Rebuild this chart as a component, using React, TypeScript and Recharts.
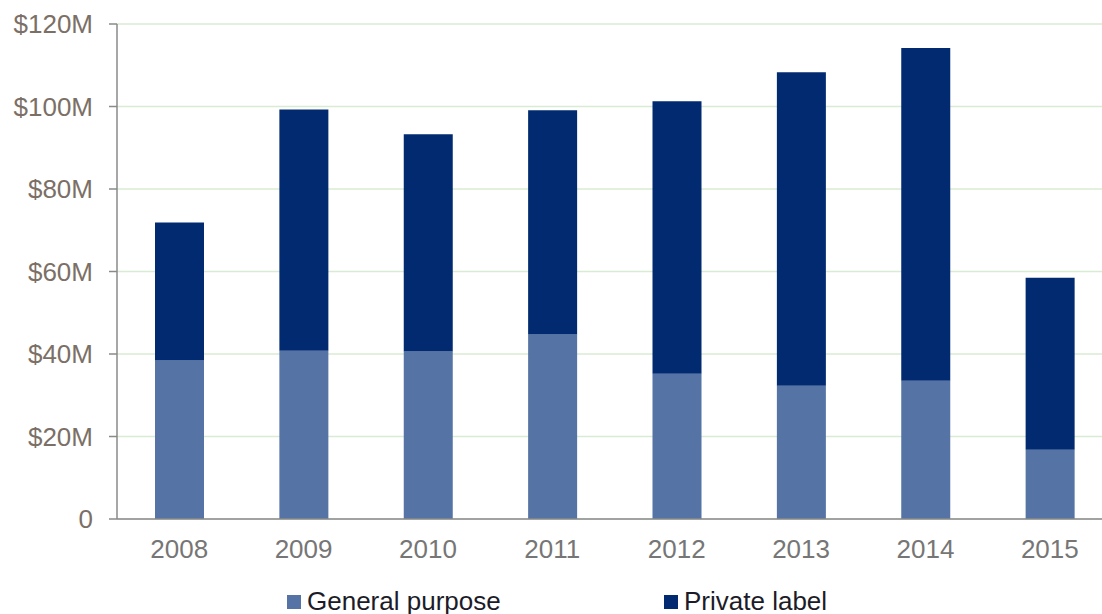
import { BarChart, Bar, XAxis, YAxis, CartesianGrid } from "recharts";

const YEARS = ["2008", "2009", "2010", "2011", "2012", "2013", "2014", "2015"];
const GENERAL = [38.4, 40.8, 40.6, 44.7, 35.2, 32.3, 33.5, 16.8];
const PRIVATE = [33.5, 58.5, 52.7, 54.4, 66.1, 76.0, 80.7, 41.7];
const Y_TICKS = [0, 20, 40, 60, 80, 100, 120];

const GENERAL_COLOR = "#5573a5";
const PRIVATE_COLOR = "#012a70";
const FONT = "'Liberation Sans', Arial, sans-serif";

const data = YEARS.map((year, i) => ({ year, general: GENERAL[i], private: PRIVATE[i] }));

function LegendItem({ color, label, left }: { color: string; label: string; left: number }) {
  return (
    <div style={{ position: "absolute", left, top: 588, display: "flex", alignItems: "flex-start" }}>
      <div style={{ width: 14, height: 14, background: color, marginTop: 7, marginRight: 6 }} />
      <span style={{ fontSize: 26, lineHeight: "26px", color: "#1c1c28", fontFamily: FONT, whiteSpace: "nowrap" }}>
        {label}
      </span>
    </div>
  );
}

export default function App() {
  return (
    <div
      style={{
        position: "absolute",
        left: 0,
        top: 0,
        width: 1102,
        height: 614,
        overflow: "hidden",
        background: "#fff",
        fontFamily: FONT,
      }}
    >
      <BarChart
        width={1112}
        height={614}
        data={data}
        margin={{ top: 24, right: 0, bottom: 0, left: 0 }}
        barSize={49}
      >
        <CartesianGrid vertical={false} stroke="#d9ebd2" strokeWidth={1.5} />
        <XAxis
          dataKey="year"
          height={95}
          tickLine={false}
          tickSize={0}
          tickMargin={21}
          stroke="#8a8a8a"
          strokeWidth={1.5}
          tick={{ fontSize: 26, fill: "#767676", fontFamily: FONT }}
        />
        <YAxis
          width={117}
          domain={[0, 120]}
          ticks={Y_TICKS}
          interval={0}
          tickSize={8}
          tickMargin={16}
          stroke="#8a8a8a"
          strokeWidth={1.5}
          tick={{ fontSize: 26, fill: "#7b6f66", fontFamily: FONT }}
          tickFormatter={(v: number) => (v === 0 ? "0" : `$${v}M`)}
        />
        <Bar dataKey="general" stackId="a" fill={GENERAL_COLOR} isAnimationActive={false} />
        <Bar dataKey="private" stackId="a" fill={PRIVATE_COLOR} isAnimationActive={false} />
      </BarChart>
      <LegendItem color={GENERAL_COLOR} label="General purpose" left={287} />
      <LegendItem color={PRIVATE_COLOR} label="Private label" left={664} />
    </div>
  );
}
